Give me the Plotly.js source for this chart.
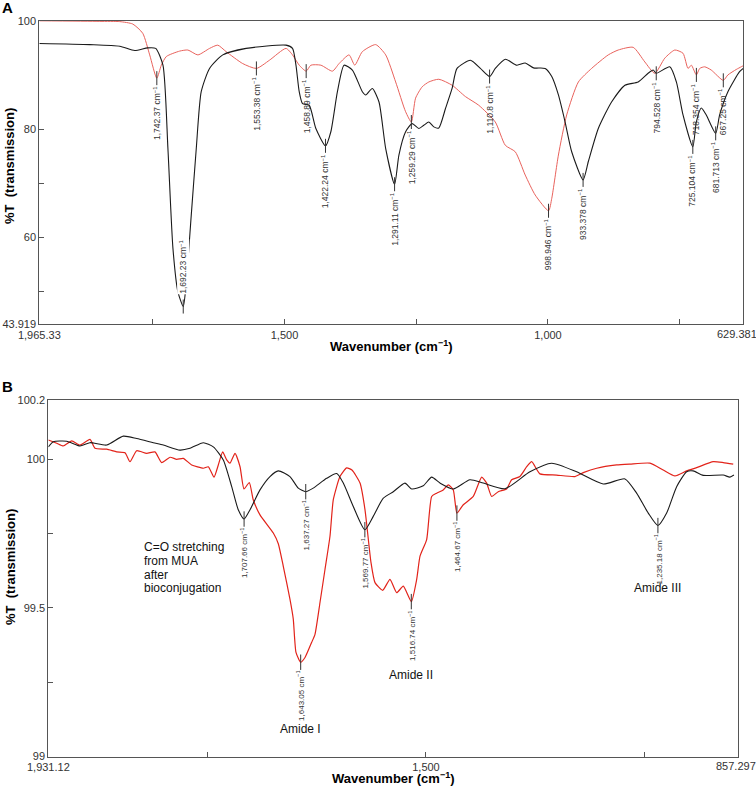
<!DOCTYPE html>
<html>
<head>
<meta charset="utf-8">
<script src="https://cdn.plot.ly/plotly-3.0.1.min.js"></script>
<style>
  body { margin: 0; background: #fff; }
  #myDiv { width: 756px; height: 787px; }
</style>
</head>
<body>
<div id="myDiv"></div>
<script>
// panel A - wavenumber (cm-1) and %T
var wnA_black = [1965.3, 1869.4, 1812.6, 1784.3, 1759.7, 1744.5, 1730.7, 1721.3, 1711.8, 1702.3, 1692.2, 1686.4, 1677.0, 1667.5, 1658.1, 1642.3, 1617.2, 1572.9, 1497.2, 1484.8, 1478.3, 1472.1, 1465.8, 1453.2, 1440.5, 1422.2, 1412.1, 1399.6, 1387.0, 1371.2, 1352.3, 1345.9, 1333.4, 1320.7, 1308.0, 1291.1, 1282.9, 1270.2, 1257.7, 1245.0, 1235.6, 1226.1, 1216.7, 1207.2, 1194.5, 1182.0, 1172.6, 1147.2, 1128.3, 1110.8, 1100.0, 1081.0, 1059.1, 1043.2, 1027.5, 1005.3, 992.8, 980.2, 967.5, 955.0, 933.4, 923.4, 904.5, 879.3, 854.0, 828.8, 809.9, 800.4, 794.5, 768.8, 756.3, 743.7, 725.1, 718.5, 709.0, 699.6, 681.7, 674.2, 658.5, 636.4, 629.4];
var tA_black = [95.8, 95.6, 95.3, 94.5, 95.0, 94.9, 91.8, 76.4, 58.0, 49.9, 47.2, 51.8, 64.1, 76.4, 86.9, 91.2, 93.7, 94.9, 95.5, 94.9, 91.8, 86.9, 84.7, 84.4, 80.1, 76.9, 79.5, 86.9, 91.8, 90.9, 86.9, 86.3, 87.5, 85.0, 76.4, 69.8, 75.2, 79.5, 81.0, 80.1, 80.7, 81.3, 80.4, 80.2, 83.8, 87.5, 91.2, 92.7, 91.2, 89.7, 91.2, 92.9, 91.8, 92.2, 91.3, 91.2, 89.7, 86.3, 81.3, 75.8, 70.6, 74.0, 80.1, 85.0, 88.1, 88.7, 90.3, 90.9, 90.3, 91.5, 88.7, 82.6, 76.7, 81.3, 83.9, 82.6, 79.2, 82.6, 86.9, 90.6, 91.2];

var wnA_red = [1965.3, 1850.5, 1812.6, 1788.0, 1769.1, 1755.9, 1742.4, 1733.8, 1724.3, 1699.1, 1683.4, 1664.5, 1642.3, 1626.7, 1610.8, 1579.4, 1553.4, 1528.8, 1497.2, 1484.8, 1472.1, 1458.9, 1450.0, 1431.0, 1409.1, 1396.4, 1377.5, 1366.7, 1352.3, 1327.0, 1308.0, 1289.1, 1270.2, 1259.3, 1251.3, 1238.8, 1226.1, 1207.2, 1182.0, 1156.7, 1131.5, 1100.0, 1081.0, 1062.1, 1043.2, 1024.2, 998.9, 992.8, 980.2, 964.5, 942.3, 917.2, 885.6, 866.7, 838.3, 816.2, 797.2, 778.3, 759.3, 743.7, 734.2, 727.9, 718.4, 712.0, 702.6, 690.1, 667.3, 658.5, 642.8, 633.3, 629.4];
var tA_red = [100.0, 99.9, 99.85, 99.4, 97.7, 93.7, 89.4, 91.8, 93.4, 94.4, 94.6, 93.7, 94.9, 95.5, 94.3, 92.1, 91.2, 92.7, 94.9, 93.7, 91.8, 90.7, 91.8, 91.8, 90.7, 92.1, 93.7, 91.8, 94.3, 95.6, 93.7, 88.7, 83.2, 81.3, 85.7, 87.8, 88.7, 89.2, 88.1, 86.0, 84.4, 81.3, 77.0, 75.8, 71.5, 67.8, 64.9, 67.2, 75.2, 82.6, 88.7, 91.2, 93.7, 94.6, 95.1, 92.4, 90.3, 93.1, 94.6, 94.0, 91.2, 91.8, 90.0, 91.2, 91.5, 90.9, 89.0, 90.0, 91.0, 91.5, 91.7];

var peaksA_wn = [1742.37, 1692.23, 1553.38, 1458.89, 1422.24, 1291.11, 1259.29, 1110.8, 998.946, 933.378, 794.528, 725.104, 718.354, 681.713, 667.25];
var peaksA_t = [89.4, 47.2, 91.2, 90.7, 76.9, 69.8, 81.3, 89.7, 64.9, 70.6, 90.3, 76.7, 90.0, 79.2, 89.0];
var peaksA_lbl = ['1,742.37', '1,692.23', '1,553.38', '1,458.89', '1,422.24', '1,291.11', '1,259.29', '1,110.8', '998.946', '933.378', '794.528', '725.104', '718.354', '681.713', '667.25'];

// panel B
var wnB_black = [1931.1, 1925.5, 1910.2, 1895.0, 1883.7, 1864.5, 1845.6, 1830.3, 1811.3, 1799.9, 1780.8, 1769.4, 1754.2, 1742.8, 1731.4, 1721.8, 1714.3, 1707.7, 1700.9, 1689.5, 1678.1, 1668.6, 1655.3, 1645.8, 1637.3, 1628.7, 1613.4, 1601.9, 1594.4, 1583.0, 1569.8, 1560.2, 1548.7, 1537.3, 1524.0, 1516.3, 1503.1, 1493.5, 1484.0, 1468.8, 1449.8, 1434.6, 1409.8, 1381.3, 1356.5, 1328.0, 1297.6, 1272.8, 1259.5, 1246.2, 1235.2, 1225.2, 1213.8, 1202.4, 1194.9, 1183.4, 1160.6, 1153.0, 1148.4];
var tB_black = [100.042, 100.059, 100.061, 100.045, 100.056, 100.048, 100.078, 100.070, 100.056, 100.048, 100.031, 100.037, 100.056, 100.042, 99.998, 99.908, 99.830, 99.799, 99.830, 99.897, 99.942, 99.961, 99.942, 99.903, 99.891, 99.903, 99.936, 99.952, 99.920, 99.841, 99.763, 99.808, 99.869, 99.891, 99.920, 99.900, 99.911, 99.940, 99.920, 99.900, 99.931, 99.920, 99.901, 99.958, 99.987, 99.958, 99.917, 99.934, 99.886, 99.819, 99.777, 99.819, 99.908, 99.958, 99.961, 99.946, 99.947, 99.940, 99.947];

var wnB_red = [1931.1, 1921.6, 1914.1, 1904.5, 1895.0, 1883.6, 1877.9, 1864.5, 1853.1, 1843.6, 1837.9, 1830.3, 1818.9, 1809.4, 1801.7, 1792.2, 1784.6, 1777.1, 1767.5, 1754.2, 1748.5, 1742.0, 1737.1, 1732.1, 1727.5, 1723.8, 1718.0, 1712.3, 1707.8, 1701.7, 1697.2, 1689.5, 1674.3, 1668.6, 1662.9, 1655.3, 1651.5, 1648.4, 1643.1, 1638.1, 1630.5, 1626.7, 1621.0, 1615.3, 1609.6, 1605.8, 1598.2, 1590.5, 1584.5, 1575.3, 1569.6, 1562.8, 1558.2, 1549.4, 1541.1, 1533.4, 1525.9, 1516.7, 1510.6, 1506.8, 1499.2, 1493.5, 1487.8, 1480.3, 1474.5, 1468.8, 1464.7, 1457.4, 1446.0, 1436.4, 1430.7, 1425.0, 1417.5, 1407.9, 1402.2, 1392.7, 1385.0, 1379.3, 1369.9, 1350.8, 1329.9, 1320.4, 1305.1, 1282.3, 1267.1, 1244.3, 1229.1, 1215.7, 1202.4, 1191.0, 1172.0, 1160.6, 1149.2];
var tB_red = [100.065, 100.054, 100.045, 100.062, 100.048, 100.067, 100.037, 100.034, 100.025, 100.022, 99.992, 100.029, 100.020, 100.025, 99.989, 100.007, 100.000, 100.003, 99.981, 99.970, 99.975, 99.940, 99.981, 100.025, 99.998, 99.987, 100.020, 99.975, 99.900, 99.922, 99.864, 99.813, 99.752, 99.716, 99.640, 99.529, 99.462, 99.350, 99.317, 99.333, 99.384, 99.411, 99.518, 99.629, 99.741, 99.864, 99.942, 99.971, 99.964, 99.920, 99.830, 99.653, 99.585, 99.559, 99.596, 99.551, 99.573, 99.521, 99.596, 99.674, 99.730, 99.875, 99.886, 99.897, 99.914, 99.897, 99.819, 99.847, 99.875, 99.940, 99.920, 99.875, 99.891, 99.900, 99.931, 99.942, 99.975, 99.992, 99.951, 99.947, 99.942, 99.955, 99.970, 99.981, 99.984, 99.987, 99.964, 99.944, 99.961, 99.972, 99.992, 99.989, 99.984];

var peaksB_wn = [1707.66, 1643.05, 1637.27, 1569.77, 1516.74, 1464.67, 1235.18];
var peaksB_t = [99.799, 99.317, 99.891, 99.763, 99.521, 99.819, 99.777];
var peaksB_lbl = ['1,707.66', '1,643.05', '1,637.27', '1,569.77', '1,516.74', '1,464.67', '1,235.18'];

var bandNames = ['Amide I', 'Amide II', 'Amide III'];
var bandWn = [1643.05, 1516.74, 1235.18];
var bandT = [99.093, 99.274, 99.566];

var noteLines = ['C=O stretching', 'from MUA', 'after', 'bioconjugation'];
var noteWn = 1824.6, noteT = 99.704;

// end-of-axis labels as printed on the figure
var endLabelA = '629.381', endLabelB = '857.297';

var FONT = 'Liberation Sans, Arial, sans-serif';

var data = [
  {x: wnA_red, y: tA_red, xaxis: 'x', yaxis: 'y', type: 'scatter', mode: 'lines',
   line: {color: '#e8625c', width: 1, shape: 'spline', smoothing: 0.6}},
  {x: wnA_black, y: tA_black, xaxis: 'x', yaxis: 'y', type: 'scatter', mode: 'lines',
   line: {color: '#1a1a1a', width: 1.1, shape: 'spline', smoothing: 0.6}},
  {x: peaksA_wn, y: peaksA_t, xaxis: 'x', yaxis: 'y', type: 'scatter', mode: 'markers',
   marker: {symbol: 'line-ns', size: 10, line: {width: 1, color: '#333'}}},
  {x: wnB_red, y: tB_red, xaxis: 'x2', yaxis: 'y2', type: 'scatter', mode: 'lines',
   line: {color: '#e2231a', width: 1.2, shape: 'spline', smoothing: 0.5}},
  {x: wnB_black, y: tB_black, xaxis: 'x2', yaxis: 'y2', type: 'scatter', mode: 'lines',
   line: {color: '#1a1a1a', width: 1.1, shape: 'spline', smoothing: 0.6}},
  {x: peaksB_wn, y: peaksB_t, xaxis: 'x2', yaxis: 'y2', type: 'scatter', mode: 'markers',
   marker: {symbol: 'line-ns', size: 11, line: {width: 1, color: '#333'}}}
];

var annotations = [];

peaksA_wn.forEach(function(w, i) {
  var above = peaksA_lbl[i] === '1,692.23';
  annotations.push({
    x: w, y: peaksA_t[i], xref: 'x', yref: 'y', showarrow: false,
    text: peaksA_lbl[i] + ' cm<sup>−1</sup>', textangle: -90,
    xanchor: 'center', yanchor: above ? 'bottom' : 'top', yshift: above ? 12 : -7,
    bgcolor: above ? '#fff' : 'rgba(0,0,0,0)', borderpad: 0,
    font: {family: FONT, size: 8.5, color: '#333'}
  });
});

peaksB_wn.forEach(function(w, i) {
  annotations.push({
    x: w, y: peaksB_t[i], xref: 'x2', yref: 'y2', showarrow: false,
    text: peaksB_lbl[i] + ' cm<sup>−1</sup>', textangle: -90,
    xanchor: 'center', yanchor: 'top', yshift: -8, borderpad: 0,
    font: {family: FONT, size: 8, color: '#333'}
  });
});

bandNames.forEach(function(n, i) {
  annotations.push({
    x: bandWn[i], y: bandT[i], xref: 'x2', yref: 'y2', showarrow: false,
    xanchor: 'center', yanchor: 'middle',
    text: n, font: {family: FONT, size: 12, color: '#111'}
  });
});

noteLines.forEach(function(s, i) {
  annotations.push({
    x: noteWn, y: noteT, xref: 'x2', yref: 'y2', showarrow: false,
    xanchor: 'left', yanchor: 'middle', yshift: -13.7 * i,
    text: s, font: {family: FONT, size: 12, color: '#111'}
  });
});

// axis titles, end labels and panel letters
var titleFont = {family: FONT, size: 13, color: '#000'};
var tickFont = {family: FONT, size: 11, color: '#333'};
function paperText(px, py, txt, angle, font) {
  return {x: px / 756, y: 1 - py / 787, xref: 'paper', yref: 'paper', showarrow: false,
          xanchor: 'center', yanchor: 'middle', text: txt, textangle: angle || 0, font: font};
}
annotations.push(
  paperText(391, 346, '<b>Wavenumber (cm<sup>−1</sup>)</b>', 0, titleFont),
  paperText(393, 778, '<b>Wavenumber (cm<sup>−1</sup>)</b>', 0, titleFont),
  paperText(10, 166, '<b>%T  (transmission)</b>', -90, titleFont),
  paperText(10, 567, '<b>%T  (transmission)</b>', -90, titleFont),
  paperText(737, 334, endLabelA, 0, tickFont),
  paperText(736, 766, endLabelB, 0, tickFont),
  paperText(7, 8, '<b>A</b>', 0, {family: FONT, size: 15, color: '#000'}),
  paperText(7, 386, '<b>B</b>', 0, {family: FONT, size: 15, color: '#000'})
);

var axisStyle = {
  showline: true, mirror: true, linecolor: '#555', linewidth: 1,
  ticks: 'inside', ticklen: 5, tickcolor: '#555', tickwidth: 1,
  showgrid: false, zeroline: false, automargin: false,
  ticklabeloverflow: 'allow',
  tickfont: tickFont, tickmode: 'array'
};
function minorTicks(vals) {
  return {tickmode: 'array', tickvals: vals, ticks: 'inside', ticklen: 5,
          tickcolor: '#555', tickwidth: 1, showgrid: false};
}

var layout = {
  width: 756, height: 787,
  margin: {l: 0, r: 0, t: 0, b: 0},
  paper_bgcolor: '#fff', plot_bgcolor: '#fff',
  showlegend: false, hovermode: false,
  xaxis: Object.assign({}, axisStyle, {
    domain: [39.3 / 756, 743.3 / 756], anchor: 'y',
    range: [1965.4, 629.3],
    tickvals: [1965.33, 1500, 1000],
    ticktext: ['1,965.33', '1,500', '1,000'],
    minor: minorTicks([1750, 1250, 750])
  }),
  yaxis: Object.assign({}, axisStyle, {
    domain: [1 - 324.4 / 787, 1 - 20.7 / 787], anchor: 'x',
    range: [43.9, 100.02],
    tickvals: [43.919, 60, 80, 100],
    ticktext: ['43.919', '60', '80', '100'],
    minor: minorTicks([50, 70])
  }),
  xaxis2: Object.assign({}, axisStyle, {
    domain: [48.3 / 756, 738.3 / 756], anchor: 'y2',
    range: [1931.2, 1143.4],
    tickvals: [1931.12, 1500],
    ticktext: ['1,931.12', '1,500'],
    minor: minorTicks([1750, 1250])
  }),
  yaxis2: Object.assign({}, axisStyle, {
    domain: [1 - 756.7 / 787, 1 - 399.6 / 787], anchor: 'x2',
    range: [98.999, 100.201],
    tickvals: [99, 99.5, 100, 100.2],
    ticktext: ['99', '99.5', '100', '100.2'],
    minor: minorTicks([99.25, 99.75])
  }),
  annotations: annotations
};

Plotly.newPlot('myDiv', data, layout, {staticPlot: true, displayModeBar: false});
</script>
</body>
</html>
